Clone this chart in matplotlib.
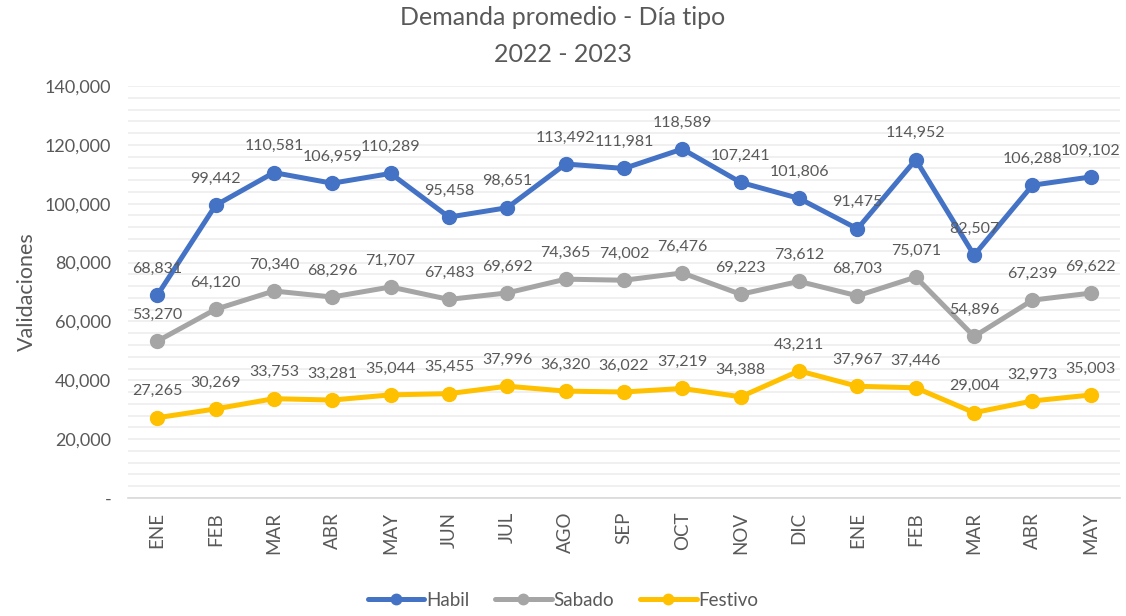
import matplotlib.pyplot as plt
from matplotlib.ticker import MultipleLocator, FuncFormatter

meses = ["ENE", "FEB", "MAR", "ABR", "MAY", "JUN", "JUL", "AGO", "SEP",
         "OCT", "NOV", "DIC", "ENE", "FEB", "MAR", "ABR", "MAY"]
habil = [68831, 99442, 110581, 106959, 110289, 95458, 98651, 113492, 111981,
         118589, 107241, 101806, 91475, 114952, 82507, 106288, 109102]
sabado = [53270, 64120, 70340, 68296, 71707, 67483, 69692, 74365, 74002,
          76476, 69223, 73612, 68703, 75071, 54896, 67239, 69622]
festivo = [27265, 30269, 33753, 33281, 35044, 35455, 37996, 36320, 36022,
           37219, 34388, 43211, 37967, 37446, 29004, 32973, 35003]

texto = "#595959"
plt.rcParams['font.family'] = ['Lato', 'DejaVu Sans']

fig = plt.figure(figsize=(11.26, 6.16), dpi=100)
ax = fig.add_axes([128 / 1126, 1 - 498 / 616, (1120 - 128) / 1126, (498 - 86) / 616])

x = list(range(len(meses)))
series = [("Habil", habil, "#4472C4"), ("Sabado", sabado, "#A5A5A5"),
          ("Festivo", festivo, "#FFC000")]
for nombre, vals, color in series:
    ax.plot(x, vals, color=color, lw=3.6, marker="o", ms=10, label=nombre,
            solid_capstyle="round", zorder=3)
    for xi, v in zip(x, vals):
        ax.annotate(f"{v:,}", (xi, v), xytext=(0, 14), textcoords="offset points",
                    ha="center", va="bottom", fontsize=11.5, color=texto, zorder=4)

ax.set_xlim(-0.5, len(meses) - 0.5)
ax.set_ylim(0, 140000)
ax.yaxis.set_major_locator(MultipleLocator(20000))
ax.yaxis.set_minor_locator(MultipleLocator(4000))
ax.yaxis.set_major_formatter(FuncFormatter(lambda v, p: "-" if v == 0 else f"{int(v):,}"))
ax.grid(axis="y", which="both", color="#EDEDED", lw=1.2, zorder=0)
ax.set_axisbelow(True)
for s in ["top", "right", "left"]:
    ax.spines[s].set_visible(False)
ax.spines["bottom"].set_color("#D9D9D9")
ax.spines["bottom"].set_linewidth(1.2)

ax.set_xticks(x)
ax.set_xticklabels(meses, rotation=90, fontsize=13.5, color=texto)
ax.tick_params(axis="y", which="both", length=0, labelsize=13, labelcolor=texto, pad=12)
ax.tick_params(axis="x", length=0, pad=10)
ax.set_ylabel("Validaciones", fontsize=15.5, color=texto, labelpad=6)

fig.suptitle("Demanda promedio - Día tipo\n2022 - 2023", fontsize=18, color=texto,
             y=1 - 6 / 616, va="top", linespacing=1.75)

leg = fig.legend(loc="lower center", ncol=3, bbox_to_anchor=(0.5, -0.016), frameon=False,
                 fontsize=13.5, handlelength=3.0, columnspacing=1.4, handletextpad=0.1,
                 markerscale=0.75)
for t in leg.get_texts():
    t.set_color(texto)

fig.savefig("out.png", dpi=100)
